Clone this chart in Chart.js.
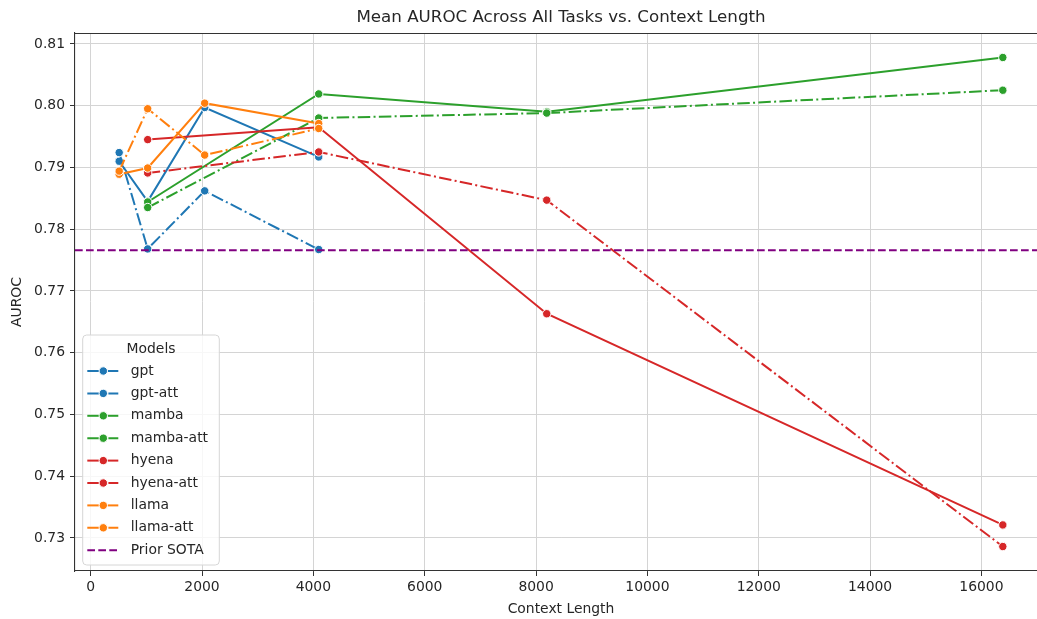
<!DOCTYPE html>
<html>
<head>
<meta charset="utf-8">
<title>Mean AUROC vs Context Length</title>
<script src="https://cdn.jsdelivr.net/npm/chart.js@4.4.1/dist/chart.umd.min.js"></script>
<style>
    html, body { margin: 0; padding: 0; background: #fff; overflow: hidden; }
    #wrap { width: 1060px; height: 619px; }
</style>
</head>
<body>
<div id="wrap"><canvas id="chart"></canvas></div>
<script>
    "use strict";

    // Data
    var contextLengths = [512, 1024, 2048, 4096, 8192, 16384];
    var modelNames = ['gpt', 'gpt-att', 'mamba', 'mamba-att', 'hyena', 'hyena-att', 'llama', 'llama-att'];
    var gptAuroc      = [0.7910, 0.7845, 0.7997, 0.7917, null, null];
    var gptAttAuroc   = [0.7924, 0.7768, 0.7862, 0.7767, null, null];
    var mambaAuroc    = [null, 0.7844, null, 0.8019, 0.7990, 0.8078];
    var mambaAttAuroc = [null, 0.7835, null, 0.7980, 0.7988, 0.8025];
    var hyenaAuroc    = [null, 0.7945, null, 0.7965, 0.7663, 0.7321];
    var hyenaAttAuroc = [null, 0.7891, null, 0.7925, 0.7847, 0.7286];
    var llamaAuroc    = [0.7889, 0.7899, 0.8004, 0.7971, null, null];
    var llamaAttAuroc = [0.7894, 0.7995, 0.7920, 0.7963, null, null];
    var priorSota = 0.7766;
    var xTickValues = [0, 2000, 4000, 6000, 8000, 10000, 12000, 14000, 16000];
    var yTickValues = [0.73, 0.74, 0.75, 0.76, 0.77, 0.78, 0.79, 0.80, 0.81];

    var seriesValues = [gptAuroc, gptAttAuroc, mambaAuroc, mambaAttAuroc, hyenaAuroc, hyenaAttAuroc, llamaAuroc, llamaAttAuroc];
    var modelColors = ['#1f77b4', '#1f77b4', '#2ca02c', '#2ca02c', '#d62728', '#d62728', '#ff7f0e', '#ff7f0e'];

    var DASHDOT = [12.5, 3.3, 2, 3.3];
    var DASHED = [7.7, 3.3];
    var FONT = "'DejaVu Sans', sans-serif";
    var TEXT = '#262626';
    var SPINE = '#333333';

    // matplotlib style 5% margins
    var allY = [];
    seriesValues.forEach(function(s) { s.forEach(function(v) { if (v !== null) allY.push(v); }); });
    var yLo = Math.min.apply(null, allY), yHi = Math.max.apply(null, allY);
    var xLo = contextLengths[0], xHi = contextLengths[contextLengths.length - 1];
    var xMin = xLo - 0.05 * (xHi - xLo), xMax = xHi + 0.05 * (xHi - xLo);
    var yMin = yLo - 0.05 * (yHi - yLo), yMax = yHi + 0.05 * (yHi - yLo);

    var datasets = modelNames.map(function(name, i) {
        var pts = [];
        contextLengths.forEach(function(x, j) {
            if (seriesValues[i][j] !== null) pts.push({ x: x, y: seriesValues[i][j] });
        });
        return {
            label: name,
            data: pts,
            borderColor: modelColors[i],
            backgroundColor: modelColors[i],
            borderWidth: 2,
            borderDash: name.indexOf('-att') > -1 ? DASHDOT : [],
            pointRadius: 4.2,
            pointHoverRadius: 4.2,
            pointBorderColor: '#ffffff',
            pointBorderWidth: 1,
            pointBackgroundColor: modelColors[i],
            tension: 0,
            order: 20 - i
        };
    });
    datasets.push({
        label: 'Prior SOTA',
        data: [{ x: xMin, y: priorSota }, { x: xMax, y: priorSota }],
        borderColor: '#800080',
        borderWidth: 2,
        borderDash: DASHED,
        pointRadius: 0,
        order: 0
    });

    // Legend inside the axes, lower left, plus top spine
    var boxLegend = {
        id: 'boxLegend',
        afterDraw: function(chart) {
            var ctx = chart.ctx, a = chart.chartArea;
            ctx.save();
            ctx.strokeStyle = SPINE;
            ctx.lineWidth = 1.1;
            ctx.beginPath();
            ctx.moveTo(a.left, a.top + 0.5);
            ctx.lineTo(a.right, a.top + 0.5);
            ctx.moveTo(a.right - 0.5, a.top);
            ctx.lineTo(a.right - 0.5, a.bottom);
            ctx.stroke();

            var bx = a.left + 7.7, bw = 136.6, bh = 230, by = a.bottom - 6 - bh;
            var r = 4;
            ctx.beginPath();
            ctx.moveTo(bx + r, by);
            ctx.arcTo(bx + bw, by, bx + bw, by + bh, r);
            ctx.arcTo(bx + bw, by + bh, bx, by + bh, r);
            ctx.arcTo(bx, by + bh, bx, by, r);
            ctx.arcTo(bx, by, bx + bw, by, r);
            ctx.closePath();
            ctx.fillStyle = 'rgba(255,255,255,0.8)';
            ctx.fill();
            ctx.strokeStyle = '#d6d6d6';
            ctx.lineWidth = 1;
            ctx.stroke();

            ctx.font = '13.9px ' + FONT;
            ctx.fillStyle = TEXT;
            ctx.textBaseline = 'middle';
            ctx.textAlign = 'center';
            ctx.fillText('Models', bx + bw / 2, by + 14);

            chart.data.datasets.forEach(function(ds, i) {
                var y = by + 36 + i * 22.4;
                ctx.save();
                ctx.strokeStyle = ds.borderColor;
                ctx.lineWidth = ds.borderWidth;
                ctx.setLineDash(ds.borderDash);
                ctx.beginPath();
                ctx.moveTo(bx + 4.6, y);
                ctx.lineTo(bx + 35.6, y);
                ctx.stroke();
                ctx.restore();
                if (ds.pointRadius > 0) {
                    ctx.beginPath();
                    ctx.arc(bx + 20.6, y, ds.pointRadius, 0, Math.PI * 2);
                    ctx.fillStyle = ds.pointBackgroundColor;
                    ctx.fill();
                    ctx.strokeStyle = '#ffffff';
                    ctx.lineWidth = 1;
                    ctx.stroke();
                }
                ctx.fillStyle = TEXT;
                ctx.textAlign = 'left';
                ctx.fillText(ds.label, bx + 48, y);
            });
            ctx.restore();
        }
    };

    var ctx1 = document.getElementById('chart').getContext('2d');
    var myChart1 = new Chart(ctx1, {
        type: 'line',
        data: { datasets: datasets },
        plugins: [boxLegend],
        options: {
            responsive: true,
            maintainAspectRatio: false,
            animation: false,
            events: [],
            // canvas is wider than the window: the reference is cut off past the plot's right edge
            layout: { autoPadding: false, padding: { top: 0, right: 13, left: 0, bottom: 0 } },
            plugins: {
                legend: { display: false },
                tooltip: { enabled: false },
                title: {
                    display: true,
                    text: 'Mean AUROC Across All Tasks vs. Context Length',
                    fullSize: false,
                    color: TEXT,
                    font: { family: FONT, size: 16.7, weight: 'normal' },
                    padding: { top: 8, bottom: 5 }
                }
            },
            scales: {
                x: {
                    type: 'linear',
                    min: xMin,
                    max: xMax,
                    afterBuildTicks: function(scale) {
                        scale.ticks = xTickValues.map(function(v) { return { value: v }; });
                    },
                    afterFit: function(scale) { scale.height = 48; },
                    ticks: {
                        color: TEXT,
                        padding: 3,
                        maxRotation: 0,
                        font: { family: FONT, size: 13.9 },
                        callback: function(v) { return String(v); }
                    },
                    grid: { color: '#d4d4d4', lineWidth: 1, tickLength: 5, tickColor: SPINE },
                    border: { color: SPINE, width: 1.1 },
                    title: {
                        display: true,
                        text: 'Context Length',
                        color: TEXT,
                        font: { family: FONT, size: 13.9 },
                        padding: { top: 0, bottom: 1 }
                    }
                },
                y: {
                    min: yMin,
                    max: yMax,
                    afterBuildTicks: function(scale) {
                        scale.ticks = yTickValues.map(function(v) { return { value: v }; });
                    },
                    afterFit: function(scale) { scale.width = 75; },
                    ticks: {
                        color: TEXT,
                        padding: 5,
                        font: { family: FONT, size: 13.9 },
                        callback: function(v) { return v.toFixed(2); }
                    },
                    grid: { color: '#d4d4d4', lineWidth: 1, tickLength: 5, tickColor: SPINE },
                    border: { color: SPINE, width: 1.1 },
                    title: {
                        display: true,
                        text: 'AUROC',
                        color: TEXT,
                        font: { family: FONT, size: 13.9 },
                        padding: { top: 9, bottom: 0 }
                    }
                }
            }
        }
    });
</script>
</body>
</html>
